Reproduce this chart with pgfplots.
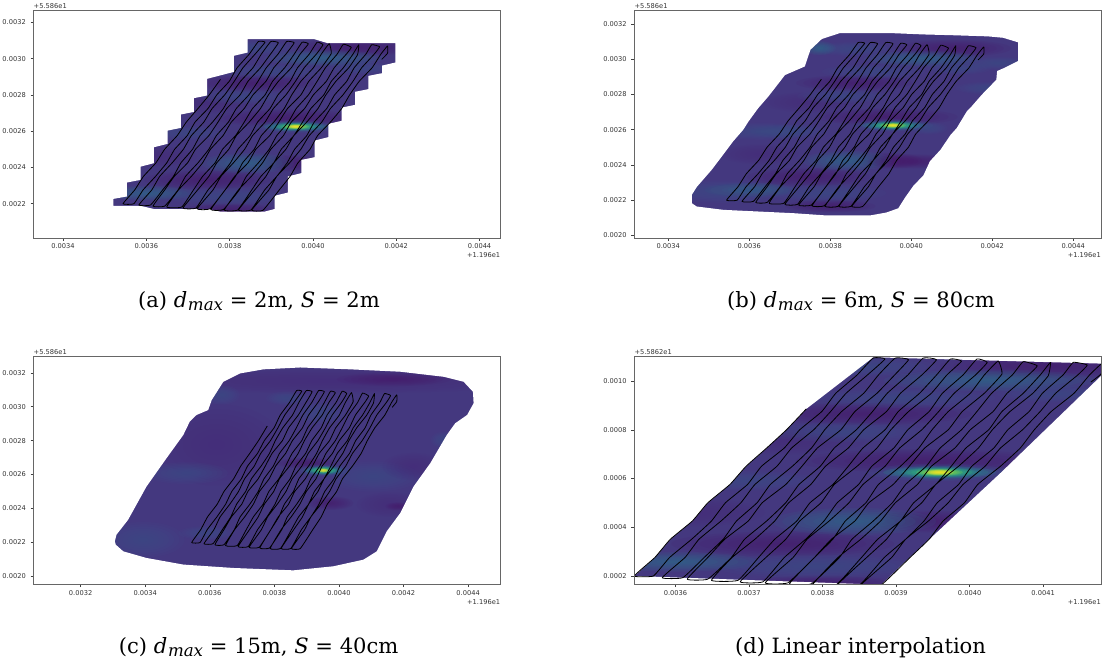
\documentclass[border=0pt]{standalone}
\usepackage{pgfplots}
\usepackage{pgfplotstable}
\usepackage{fontspec}
\pgfplotsset{compat=1.18}
\setmainfont{DejaVu Serif}
\newfontfamily\tickfont{DejaVu Sans}
\definecolor{vbase}{HTML}{44387F}
\definecolor{vbaseb}{HTML}{443E85}
\definecolor{vdeep}{HTML}{48186A}
\definecolor{vpur}{HTML}{472B7A}
\definecolor{vblue}{HTML}{3B528B}
\definecolor{vteal}{HTML}{2C728E}
\definecolor{vtl}{HTML}{21908C}
\definecolor{vgreen}{HTML}{35B779}
\definecolor{vlime}{HTML}{8FD744}
\definecolor{vyel}{HTML}{FDE725}
\newcommand\blobrings{%
 \pgfpathcircle{\pgfpointorigin}{1pt}\pgfusepathqfill
 \pgfpathcircle{\pgfpointorigin}{0.875pt}\pgfusepathqfill
 \pgfpathcircle{\pgfpointorigin}{0.75pt}\pgfusepathqfill
 \pgfpathcircle{\pgfpointorigin}{0.625pt}\pgfusepathqfill
 \pgfpathcircle{\pgfpointorigin}{0.5pt}\pgfusepathqfill
 \pgfpathcircle{\pgfpointorigin}{0.375pt}\pgfusepathqfill
 \pgfpathcircle{\pgfpointorigin}{0.25pt}\pgfusepathqfill
 \pgfpathcircle{\pgfpointorigin}{0.125pt}\pgfusepathqfill}
\pgfdeclareplotmark{blob}{\pgfsetfillopacity{0.11}\blobrings}
\pgfdeclareplotmark{hblob}{\pgfsetfillopacity{0.2}\blobrings}
% position in units of 1e-6 degrees above 11.96 and 55.86
\pgfplotstableread[row sep=crcr]{
x y\\
3778 2886\\ 3751 2800\\ 3724 2725\\ 3696 2650\\ 3674 2575\\ 3644 2500\\ 3623 2425\\ 3593 2350\\ 3572 2275\\ 3544 2199\\
3570 2199\\ 3592 2275\\ 3622 2350\\ 3649 2425\\ 3668 2500\\ 3698 2575\\ 3717 2650\\ 3748 2725\\ 3769 2800\\ 3799 2875\\ 3818 2950\\ 3847 3025\\ 3869 3095\\
3885 3091\\ 3861 3025\\ 3832 2950\\ 3811 2875\\ 3788 2800\\ 3758 2725\\ 3738 2650\\ 3708 2575\\ 3689 2500\\ 3662 2425\\ 3632 2350\\ 3613 2275\\ 3582 2192\\
3610 2192\\ 3639 2275\\ 3665 2350\\ 3683 2425\\ 3711 2500\\ 3729 2575\\ 3759 2650\\ 3785 2725\\ 3803 2800\\ 3826 2875\\ 3856 2950\\ 3876 3025\\ 3899 3095\\
3917 3088\\ 3898 3025\\ 3874 2950\\ 3844 2875\\ 3825 2800\\ 3793 2725\\ 3772 2650\\ 3750 2575\\ 3718 2500\\ 3699 2425\\ 3667 2350\\ 3644 2275\\ 3616 2186\\
3644 2186\\ 3676 2275\\ 3694 2350\\ 3724 2425\\ 3750 2500\\ 3768 2575\\ 3797 2650\\ 3816 2725\\ 3846 2800\\ 3868 2875\\ 3888 2950\\ 3916 3025\\ 3937 3095\\
3955 3088\\ 3935 3025\\ 3906 2950\\ 3887 2875\\ 3856 2800\\ 3835 2725\\ 3804 2650\\ 3784 2575\\ 3754 2500\\ 3735 2425\\ 3708 2350\\ 3677 2275\\ 3649 2181\\
3685 2181\\ 3713 2275\\ 3735 2350\\ 3765 2425\\ 3783 2500\\ 3814 2575\\ 3835 2650\\ 3855 2725\\ 3885 2800\\ 3903 2875\\ 3932 2950\\ 3955 3025\\ 3974 3091\\
3989 3082\\ 3969 3025\\ 3948 2950\\ 3917 2875\\ 3893 2800\\ 3874 2725\\ 3847 2650\\ 3816 2575\\ 3798 2500\\ 3769 2425\\ 3750 2350\\ 3723 2275\\ 3688 2175\\
3719 2175\\ 3748 2275\\ 3777 2350\\ 3802 2425\\ 3820 2500\\ 3849 2575\\ 3867 2650\\ 3897 2725\\ 3916 2800\\ 3945 2875\\ 3963 2950\\ 3991 3025\\ 4010 3091\\
4024 3077\\ 4008 3025\\ 3979 2950\\ 3958 2875\\ 3935 2800\\ 3905 2725\\ 3885 2650\\ 3855 2575\\ 3836 2500\\ 3809 2425\\ 3779 2350\\ 3760 2275\\ 3722 2171\\
3753 2171\\ 3789 2275\\ 3814 2350\\ 3831 2425\\ 3859 2500\\ 3876 2575\\ 3906 2650\\ 3931 2725\\ 3949 2800\\ 3971 2875\\ 4001 2950\\ 4020 3025\\ 4039 3083\\
4044 3029\\ 4020 2950\\ 3990 2875\\ 3971 2800\\ 3939 2725\\ 3918 2650\\ 3896 2575\\ 3863 2500\\ 3844 2425\\ 3812 2350\\ 3789 2275\\ 3755 2167\\
3785 2167\\ 3823 2275\\ 3840 2350\\ 3869 2425\\ 3895 2500\\ 3913 2575\\ 3941 2650\\ 3960 2725\\ 3989 2800\\ 4010 2875\\ 4030 2950\\ 4058 3025\\ 4073 3080\\
4092 3063\\ 4080 3025\\ 4051 2950\\ 4032 2875\\ 4001 2800\\ 3980 2725\\ 3948 2650\\ 3929 2575\\ 3899 2500\\ 3879 2425\\ 3852 2350\\ 3821 2275\\ 3787 2164\\
3819 2164\\ 3853 2275\\ 3875 2350\\ 3906 2425\\ 3924 2500\\ 3954 2575\\ 3975 2650\\ 3995 2725\\ 4026 2800\\ 4044 2875\\ 4073 2950\\ 4096 3025\\ 4110 3077\\
4107 3022\\ 4086 2950\\ 4055 2875\\ 4031 2800\\ 4012 2725\\ 3985 2650\\ 3954 2575\\ 3935 2500\\ 3906 2425\\ 3887 2350\\ 3860 2275\\ 3821 2164\\
3851 2164\\ 3884 2275\\ 3913 2350\\ 3938 2425\\ 3956 2500\\ 3985 2575\\ 4003 2650\\ 4033 2725\\ 4052 2800\\ 4081 2875\\ 4099 2950\\ 4127 3025\\ 4141 3077\\
4160 3066\\ 4147 3025\\ 4117 2950\\ 4096 2875\\ 4072 2800\\ 4042 2725\\ 4021 2650\\ 3991 2575\\ 3971 2500\\ 3944 2425\\ 3913 2350\\ 3894 2275\\ 3853 2164\\
3880 2163\\ 3919 2275\\ 3945 2350\\ 3964 2425\\ 3993 2500\\ 4011 2575\\ 4042 2650\\ 4069 2725\\ 4088 2800\\ 4111 2875\\ 4142 2950\\ 4163 3025\\ 4179 3070\\
4179 3030\\ 4165 2996\\
}\track
\newcommand\drawtrack{\addplot[black, line width=0.6pt, line join=round, smooth, tension=0.22] table {\track};}
% white outside the covered area: frame, then the outline of the area
\pgfplotstableread[row sep=crcr]{
x y\\
3000 1800\\ 4700 1800\\ 4700 3400\\ 3000 3400\\ 3000 1800\\
3843 3108\\ 4003 3108\\ 4035 3086\\ 4198 3086\\ 4198 2979\\ 4166 2962\\ 4166 2920\\ 4133 2905\\ 4133 2832\\ 4101 2817\\ 4101 2745\\ 4069 2730\\ 4069 2657\\ 4037 2640\\ 4037 2567\\ 4004 2548\\ 4004 2456\\ 3972 2441\\ 3972 2368\\ 3940 2350\\ 3940 2261\\ 3908 2243\\ 3908 2170\\ 3883 2155\\ 3778 2155\\ 3750 2170\\ 3618 2170\\ 3586 2188\\ 3521 2188\\ 3521 2226\\ 3553 2239\\ 3553 2316\\ 3586 2331\\ 3586 2404\\ 3618 2423\\ 3618 2511\\ 3651 2530\\ 3651 2603\\ 3683 2618\\ 3683 2692\\ 3714 2706\\ 3714 2782\\ 3746 2797\\ 3746 2889\\ 3810 2927\\ 3810 3016\\ 3843 3034\\ 3843 3108\\
}\maskA
\pgfplotstableread[row sep=crcr]{
x y\\
3000 1800\\ 4700 1800\\ 4700 3400\\ 3000 3400\\ 3000 1800\\
3779 3115\\ 3824 3149\\ 3947 3149\\ 4030 3141\\ 4096 3137\\ 4190 3130\\ 4227 3122\\ 4264 3096\\ 4264 2990\\ 4227 2948\\ 4212 2933\\ 4210 2883\\ 4190 2836\\ 4174 2798\\ 4149 2732\\ 4137 2703\\ 4112 2608\\ 4097 2570\\ 4072 2485\\ 4046 2420\\ 4030 2340\\ 4005 2280\\ 3985 2215\\ 3968 2153\\ 3939 2129\\ 3898 2112\\ 3791 2112\\ 3709 2125\\ 3536 2144\\ 3470 2163\\ 3458 2182\\ 3458 2229\\ 3470 2273\\ 3482 2305\\ 3507 2371\\ 3532 2447\\ 3560 2533\\ 3585 2599\\ 3598 2646\\ 3622 2722\\ 3647 2788\\ 3676 2874\\ 3688 2910\\ 3737 2959\\ 3751 3054\\ 3779 3115\\
}\maskB
\pgfplotstableread[row sep=crcr]{
x y\\
2900 1800\\ 4700 1800\\ 4700 3400\\ 2900 3400\\ 2900 1800\\
3306 2206\\ 3311 2245\\ 3347 2333\\ 3404 2529\\ 3466 2696\\ 3518 2833\\ 3538 2912\\ 3559 2951\\ 3595 2980\\ 3606 3039\\ 3642 3147\\ 3694 3196\\ 3766 3220\\ 3880 3231\\ 4035 3220\\ 4190 3206\\ 4325 3176\\ 4386 3147\\ 4415 3088\\ 4417 3020\\ 4397 2951\\ 4360 2902\\ 4334 2833\\ 4283 2667\\ 4231 2529\\ 4190 2373\\ 4148 2265\\ 4117 2147\\ 4076 2098\\ 3983 2059\\ 3859 2035\\ 3673 2049\\ 3518 2069\\ 3404 2108\\ 3332 2147\\ 3309 2186\\ 3306 2206\\
}\maskC
\pgfplotstableread[row sep=crcr]{
x y\\
3400 2000\\ 4300 2000\\ 4300 3200\\ 3400 3200\\ 3400 2000\\
3544 2199\\ 3572 2275\\ 3593 2350\\ 3623 2425\\ 3644 2500\\ 3674 2575\\ 3696 2650\\ 3724 2725\\ 3751 2800\\ 3778 2886\\ 3869 3098\\ 4179 3072\\ 4179 3022\\ 4043 2625\\ 3905 2236\\ 3880 2163\\ 3544 2199\\
}\maskD
\newcommand\mask[1]{\addplot[fill=white, draw=none, even odd rule, forget plot] table {#1};}
% \blob{x}{y}{half width}{half height}{colour}
\newcommand\blob[5]{\addplot[only marks, mark=blob, mark options={xscale=1.6*#3*\kx, yscale=1.6*#4*\ky, color=#5}] coordinates {(#1,#2)};}
\newcommand\hblob[5]{\addplot[only marks, mark=hblob, mark options={xscale=1.6*#3*\kx, yscale=1.6*#4*\ky, color=#5}] coordinates {(#1,#2)};}
\newcommand\hot[2]{%
 \hblob{#1}{#2}{62}{22}{vblue}\hblob{#1}{#2}{48}{16}{vtl}\hblob{#1}{#2}{32}{12}{vgreen}\hblob{#1}{#2}{20}{9}{vlime}\hblob{#1}{#2}{12}{7}{vyel}}
\newcommand\field{%
 \blob{3939}{2672}{110}{30}{vdeep}\blob{3746}{2331}{95}{32}{vdeep}\blob{3947}{2423}{50}{28}{vdeep}
 \blob{3859}{2865}{90}{28}{vdeep}\blob{4103}{3062}{90}{30}{vdeep}\blob{3626}{2460}{60}{35}{vpur}
 \blob{3746}{2755}{70}{35}{vpur}\blob{3800}{2165}{70}{22}{vdeep}
 \blob{4027}{3003}{90}{28}{vteal}\blob{3859}{3058}{60}{25}{vblue}\blob{3843}{2423}{70}{35}{vteal}
 \blob{3602}{2257}{70}{25}{vteal}\blob{3794}{2239}{90}{30}{vblue}\blob{3907}{2930}{80}{25}{vblue}
 \blob{4117}{2948}{50}{22}{vblue}\blob{3700}{2590}{60}{25}{vblue}\blob{3830}{2790}{70}{25}{vblue}}
\pgfplotsset{
 under/.style={scale only axis, anchor=south west, width=350.2pt, height=170.6pt,
  ticks=none, axis line style={draw=none}, clip=true, clip marker paths=true, axis background/.style={fill=vbase}},
 panel/.style={
  scale only axis, anchor=south west, width=350.2pt, height=170.6pt,
  axis line style={draw=black!60, line width=0.55pt},
  tick style={draw=black!75, line width=0.35pt},
  tick align=outside, major tick length=2.2pt,
  xtick pos=bottom, ytick pos=left,
  tick label style={font=\tickfont\fontsize{5}{5.5}\selectfont, text=black!80},
  xticklabel style={yshift=1.2pt},
  clip=true, axis on top, scaled ticks=false}}
\newcommand\capt[1]{{\fontsize{15.8}{18}\selectfont #1}}
\newcommand\dm{\textit{d\kern0.5pt\raisebox{-0.28ex}{\fontsize{12.5}{13}\selectfont max}}}
\begin{document}
\begin{tikzpicture}[x=1pt,y=1pt]
\path[use as bounding box] (0,0) rectangle (827.25,499.5);
%--- a
\def\kx{0.3124}\def\ky{0.1358}
\begin{axis}[under, at={(25.1pt,321pt)}, xmin=3329, xmax=4450, ymin=2010, ymax=3266]
\field \hot{3959}{2625}
\end{axis}
\begin{axis}[panel, at={(25.1pt,321pt)}, xmin=3329, xmax=4450, ymin=2010, ymax=3266,
  xtick={3400,3600,3800,4000,4200,4400}, xticklabels={0.0034,0.0036,0.0038,0.0040,0.0042,0.0044},
  ytick={2200,2400,2600,2800,3000,3200}, yticklabels={0.0022,0.0024,0.0026,0.0028,0.0030,0.0032}]
\mask{\maskA}
\drawtrack
\end{axis}
%--- b
\def\kx{0.3036}\def\ky{0.132}
\begin{axis}[under, at={(475.7pt,321pt)}, xmin=3316, xmax=4469, ymin=1984, ymax=3277]
\field
\blob{3774}{3063}{25}{25}{vteal}\blob{3630}{2590}{75}{30}{vblue}\blob{4042}{2608}{30}{22}{vblue}
\blob{3536}{2248}{100}{40}{vblue}\blob{4005}{2419}{70}{25}{vdeep}\blob{4190}{2836}{50}{22}{vblue}\blob{4215}{2978}{50}{22}{vblue}
\hot{3955}{2624}
\end{axis}
\begin{axis}[panel, at={(475.7pt,321pt)}, xmin=3316, xmax=4469, ymin=1984, ymax=3277,
  xtick={3400,3600,3800,4000,4200,4400}, xticklabels={0.0034,0.0036,0.0038,0.0040,0.0042,0.0044},
  ytick={2000,2200,2400,2600,2800,3000,3200}, yticklabels={0.0020,0.0022,0.0024,0.0026,0.0028,0.0030,0.0032}]
\mask{\maskB}
\drawtrack
\end{axis}
%--- c
\def\kx{0.2419}\def\ky{0.1275}
\begin{axis}[under, at={(25.1pt,61.3pt)}, xmin=3054, xmax=4500, ymin=1953, ymax=3294]
\blob{3621}{2775}{130}{150}{vpur}\blob{3983}{3150}{400}{45}{vpur}\blob{4169}{3161}{110}{25}{vdeep}
\blob{3394}{2216}{80}{65}{vblue}\blob{3637}{3069}{35}{35}{vblue}\blob{3838}{3049}{40}{25}{vblue}
\blob{4107}{2588}{90}{55}{vblue}\blob{3528}{2608}{80}{40}{vblue}\blob{4324}{2804}{25}{30}{vblue}
\blob{3590}{2255}{55}{25}{vblue}\blob{3942}{2961}{50}{40}{vblue}\blob{4231}{2647}{60}{50}{vpur}
\blob{4159}{2422}{65}{45}{vpur}\blob{4184}{2412}{25}{15}{vdeep}\blob{3973}{2431}{45}{25}{vdeep}\blob{3900}{2667}{60}{20}{vdeep}
\hblob{3952}{2624}{50}{22}{vblue}\hblob{3952}{2624}{38}{16}{vtl}\hblob{3952}{2624}{26}{12}{vgreen}\hblob{3952}{2624}{11}{8}{vyel}
\end{axis}
\begin{axis}[panel, at={(25.1pt,61.3pt)}, xmin=3054, xmax=4500, ymin=1953, ymax=3294,
  xtick={3200,3400,3600,3800,4000,4200,4400}, xticklabels={0.0032,0.0034,0.0036,0.0038,0.0040,0.0042,0.0044},
  ytick={2000,2200,2400,2600,2800,3000,3200}, yticklabels={0.0020,0.0022,0.0024,0.0026,0.0028,0.0030,0.0032}]
\mask{\maskC}
\drawtrack
\end{axis}
%--- d
\def\kx{0.5505}\def\ky{0.1826}
\begin{axis}[under, at={(475.7pt,61.3pt)}, xmin=3544, xmax=4179, ymin=2165, ymax=3100]
\field \hot{3959}{2625}
\end{axis}
\begin{axis}[panel, at={(475.7pt,61.3pt)}, xmin=3544, xmax=4179, ymin=2165, ymax=3100,
  xtick={3600,3700,3800,3900,4000,4100}, xticklabels={0.0036,0.0037,0.0038,0.0039,0.0040,0.0041},
  ytick={2200,2400,2600,2800,3000}, yticklabels={0.0002,0.0004,0.0006,0.0008,0.0010}]
\mask{\maskD}
\drawtrack
\end{axis}
%--- offsets and captions
\tikzset{off/.style={font=\tickfont\fontsize{5}{5.5}\selectfont, text=black!80, inner sep=0pt}}
\node[off, anchor=south west] at (25.1,493.2) {+5.586e1};
\node[off, anchor=south west] at (475.7,493.2) {+5.586e1};
\node[off, anchor=south west] at (25.1,233.6) {+5.586e1};
\node[off, anchor=south west] at (475.7,233.6) {+5.5862e1};
\node[off, anchor=north east] at (375.3,310) {+1.196e1};
\node[off, anchor=north east] at (825.8,310) {+1.196e1};
\node[off, anchor=north east] at (375.3,50.3) {+1.196e1};
\node[off, anchor=north east] at (825.8,50.3) {+1.196e1};
\node[inner sep=0pt] at (194.2,273.5) {\capt{(a) \dm{} = 2m, \textit{S} = 2m}};
\node[inner sep=0pt] at (645.8,273.5) {\capt{(b) \dm{} = 6m, \textit{S} = 80cm}};
\node[inner sep=0pt] at (194,14) {\capt{(c) \dm{} = 15m, \textit{S} = 40cm}};
\node[inner sep=0pt] at (645.4,14) {\capt{(d) Linear interpolation}};
\end{tikzpicture}
\end{document}
